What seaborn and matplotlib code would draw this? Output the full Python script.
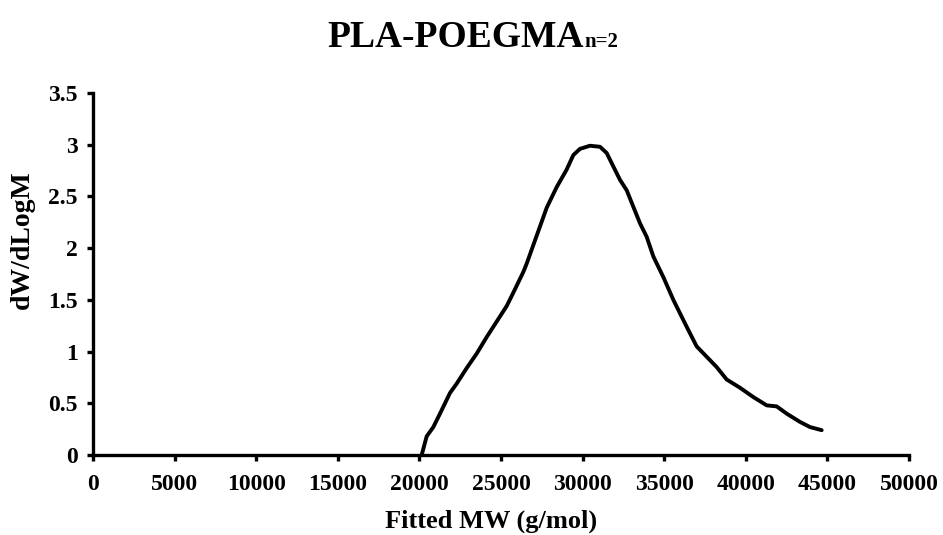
import matplotlib
matplotlib.use("Agg")
import matplotlib.pyplot as plt
import seaborn as sns
import pandas as pd
from matplotlib.ticker import FuncFormatter, MultipleLocator

mw = [20140, 20445, 20853, 21262, 21875, 22284, 22896, 23509, 24122, 24939,
      25347, 25756, 26369, 26573, 26981, 27390, 27798, 28411, 29024, 29432,
      29841, 30453, 31066, 31475, 31883, 32292, 32700, 33109, 33517, 33926,
      34334, 34947, 35560, 35968, 36377, 36989, 37602, 38215, 38828, 39645,
      40462, 41279, 41892, 42505, 43321, 43934, 44649]
dw = [0.00, 0.18, 0.27, 0.40, 0.60, 0.69, 0.84, 0.98, 1.14, 1.34,
      1.44, 1.57, 1.77, 1.85, 2.03, 2.21, 2.39, 2.59, 2.76, 2.90,
      2.96, 2.99, 2.98, 2.92, 2.79, 2.66, 2.56, 2.40, 2.24, 2.11,
      1.92, 1.72, 1.50, 1.37, 1.24, 1.05, 0.95, 0.85, 0.73, 0.65,
      0.56, 0.48, 0.47, 0.40, 0.32, 0.27, 0.24]

df = pd.DataFrame({"mw": mw, "dw": dw})

sns.set_theme(style="ticks")
plt.rcParams["font.family"] = ["Liberation Serif", "DejaVu Serif"]
plt.rcParams["font.weight"] = "bold"
plt.rcParams["text.color"] = "black"
plt.rcParams["axes.labelcolor"] = "black"
plt.rcParams["xtick.color"] = "black"
plt.rcParams["ytick.color"] = "black"

fig = plt.figure(figsize=(9.43, 5.35), dpi=100)
ax = fig.add_axes([93 / 943, 1 - 455 / 535, (909 - 93) / 943, (455 - 93) / 535])

sns.lineplot(data=df, x="mw", y="dw", ax=ax, color="black", linewidth=2.8, sort=False)

ax.set_xlim(0, 50000)
ax.set_ylim(0, 3.5)
ax.xaxis.set_major_locator(MultipleLocator(5000))
ax.yaxis.set_major_locator(MultipleLocator(0.5))
ax.yaxis.set_major_formatter(FuncFormatter(lambda v, p: "%g" % v))
ax.xaxis.set_major_formatter(FuncFormatter(lambda v, p: "%d" % v))

for s in ["top", "right"]:
    ax.spines[s].set_visible(False)
for s in ["left", "bottom"]:
    ax.spines[s].set_linewidth(2.4)
    ax.spines[s].set_color("black")
ax.tick_params(axis="both", direction="out", length=4, width=2.4, colors="black",
               labelsize=17)
ax.tick_params(axis="x", pad=10)
ax.tick_params(axis="y", pad=7)
for lab in ax.get_xticklabels() + ax.get_yticklabels():
    lab.set_fontweight("bold")
    lab.set_color("black")

ax.set_xlabel("Fitted MW (g/mol)", fontsize=19, fontweight="bold", color="black", va="center")
ax.xaxis.set_label_coords((491.5 - 93) / 816, (455 - 521) / 362)
ax.set_ylabel("dW/dLogM", fontsize=20, fontweight="bold", color="black", va="center")
ax.yaxis.set_label_coords((22 - 93) / 816, (455 - 240) / 362)

t1 = fig.text(327 / 943, 1 - 47 / 535, "PLA-POEGMA", fontsize=27, fontweight="bold",
              ha="left", va="baseline", color="black")
fig.canvas.draw()
bb = t1.get_window_extent(renderer=fig.canvas.get_renderer())
fig.text((bb.x1 + 1) / 943, 1 - 47 / 535, "n=2", fontsize=15, fontweight="bold",
         ha="left", va="baseline", color="black")

fig.savefig("out.png", dpi=100)
